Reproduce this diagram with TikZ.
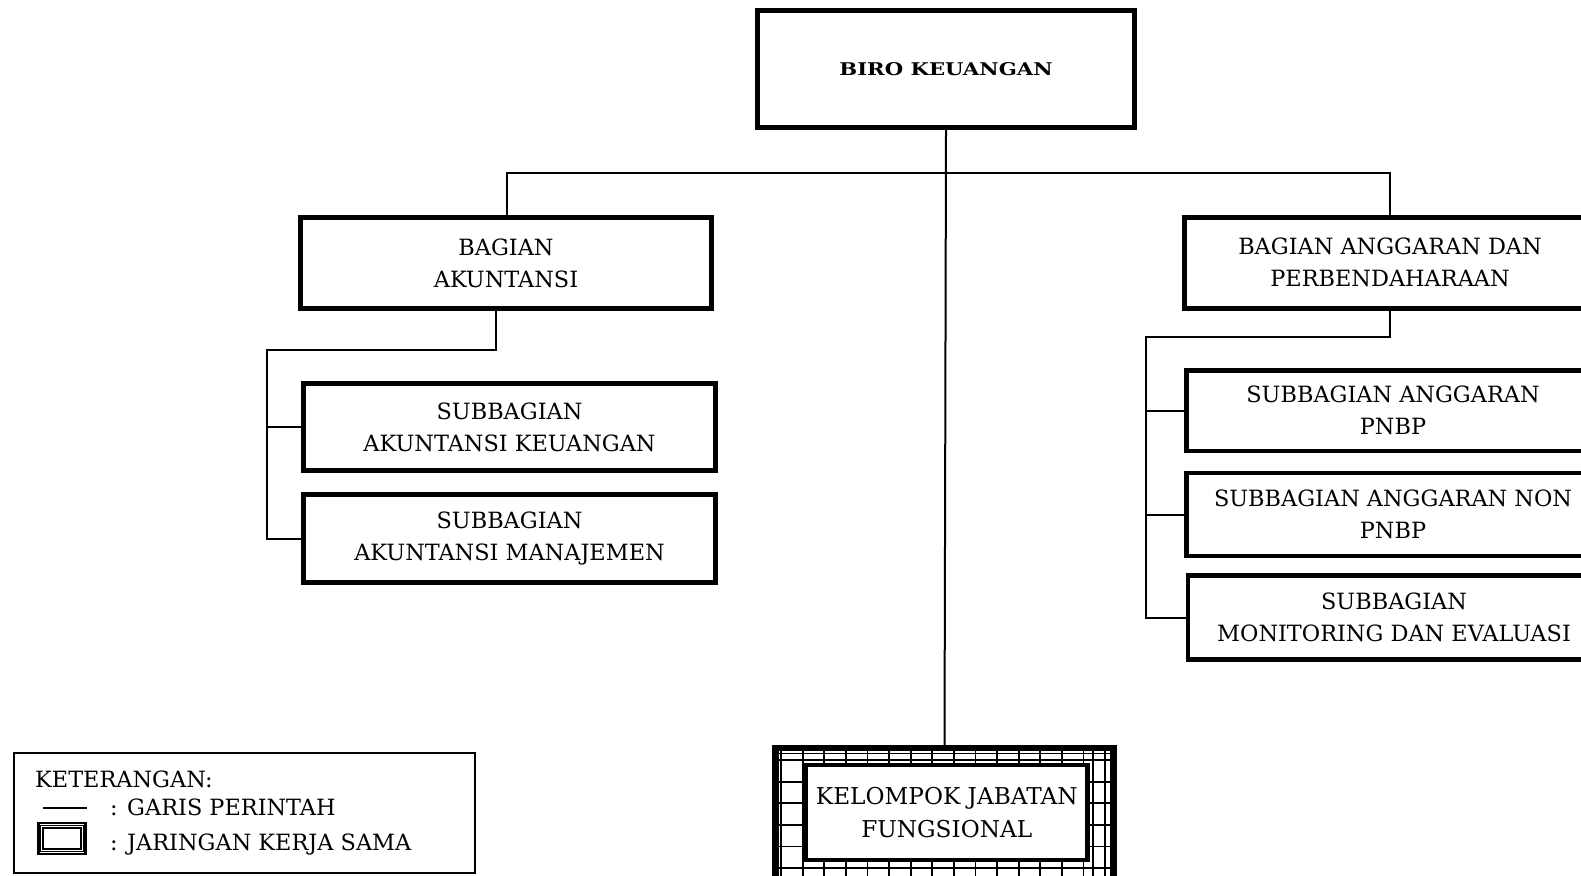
\documentclass[tikz,border=0pt]{standalone}
\usepackage{fontspec}
\setmainfont{DejaVu Serif}
\newfontfamily\headfont[FakeStretch=1.21]{DejaVu Serif}
\begin{document}
\begin{tikzpicture}[x=1pt,y=-1pt,
  unitbox/.style={draw,line width=4.7pt,fill=white,align=center,inner sep=0pt,
    font=\fontsize{22.4}{32}\selectfont},
  link/.style={line width=2pt},
  hatch/.style={line width=1.8pt},
  legtext/.style={anchor=base west,inner sep=0pt,font=\fontsize{22.4}{26}\selectfont}]
\clip (0,0) rectangle (1581,875);
\fill[white] (0,0) rectangle (1581,875);

% head of the bureau
\node[unitbox,minimum width=377.4pt,minimum height=117.4pt,
  font=\headfont\fontsize{17.5}{20}\selectfont\bfseries] (biro) at (946,69) {BIRO KEUANGAN};

% sections
\node[unitbox,minimum width=411.4pt,minimum height=91.4pt] (bak) at (506,263)
  {BAGIAN\\AKUNTANSI};
\node[unitbox,minimum width=411.4pt,minimum height=91pt] (bap) at (1390,262.8)
  {BAGIAN ANGGARAN DAN\\PERBENDAHARAAN};

% subsections, accounting
\node[unitbox,minimum width=412.4pt,minimum height=87.4pt] (sak) at (509.5,427)
  {SUBBAGIAN\\AKUNTANSI KEUANGAN};
\node[unitbox,minimum width=412.4pt,minimum height=88.4pt] (sam) at (509.5,538.5)
  {SUBBAGIAN\\AKUNTANSI MANAJEMEN};

% subsections, budget and treasury
\node[unitbox,minimum width=413.4pt,minimum height=80.3pt] (sap) at (1393,410.8)
  {SUBBAGIAN ANGGARAN\\PNBP};
\node[unitbox,minimum width=413.4pt,minimum height=83pt] (san) at (1393,514.5)
  {SUBBAGIAN ANGGARAN NON\\PNBP};
\node[unitbox,minimum width=412pt,minimum height=83.6pt] (sme) at (1394,617.5)
  {SUBBAGIAN\\MONITORING DAN EVALUASI};

% functional group: cross-hatched frame around an inner box
\node[draw,line width=4.5pt,fill=white,minimum width=336pt,minimum height=140pt,inner sep=0pt]
  (kjo) at (944.5,819) {};
\begin{scope}
  \clip (kjo.south west) rectangle (kjo.north east);
  \foreach \k in {0,...,15}
    \draw[hatch] (781+21.6*\k,740) -- (781+21.6*\k,900);
  \draw[hatch] (1093,740) -- (1093,900);
  \foreach \k in {0,...,6}
    \draw[hatch] (770,760+21.6*\k) -- (1120,760+21.6*\k);
  \draw[line width=1.2pt] (770,753.5) -- (1120,753.5);
\end{scope}
\draw[line width=4.5pt] (kjo.south west) rectangle (kjo.north east);
\node[unitbox,line width=4.6pt,minimum width=281.5pt,minimum height=95pt,
  font=\fontsize{23.2}{33}\selectfont] (kjf) at (946.75,812.5)
  {KELOMPOK JABATAN\\FUNGSIONAL};

% command lines
\coordinate (hl) at (507,173);
\coordinate (hr) at (1390,173);
\draw[link] (biro.south) -- (kjo.north);
\draw[link] (bak.north -| hl) -- (hl) -- (hr) -- (bap.north -| hr);

\coordinate (ak1) at (496,350);
\coordinate (ak2) at (267,350);
\draw[link] (bak.south -| ak1) -- (ak1) -- (ak2) -- (ak2 |- sam.west) -- (sam.west);
\draw[link] (ak2 |- sak.west) -- (sak.west);

\coordinate (ap1) at (1390,337);
\coordinate (ap2) at (1146,337);
\draw[link] (bap.south -| ap1) -- (ap1) -- (ap2) -- (ap2 |- sme.west) -- (sme.west);
\draw[link] (ap2 |- sap.west) -- (sap.west);
\draw[link] (ap2 |- san.west) -- (san.west);

% legend
\node[draw,line width=2pt,minimum width=461pt,minimum height=120pt,inner sep=0pt] (leg) at (244,812.5) {};
\node[legtext] (legt) at (35,787) {KETERANGAN:};
\coordinate (lgA) at (43,808);
\coordinate (lgB) at (87,808);
\draw[line width=2.5pt] (lgA) -- (lgB);
\node[legtext] (legg) at (110,815) {: GARIS PERINTAH};
\node[draw,line width=2.5pt,minimum width=47pt,minimum height=31pt,inner sep=0pt] (legs) at (62,838.5) {};
\draw[line width=0.8pt] ([shift={(3.5,-3.5)}]legs.south west) rectangle ([shift={(-3.5,3.5)}]legs.north east);
\draw[line width=1.8pt] ([shift={(6,-6)}]legs.south west) rectangle ([shift={(-6,6)}]legs.north east);
\node[legtext] (legj) at (110,850) {: JARINGAN KERJA SAMA};
\end{tikzpicture}
\end{document}
